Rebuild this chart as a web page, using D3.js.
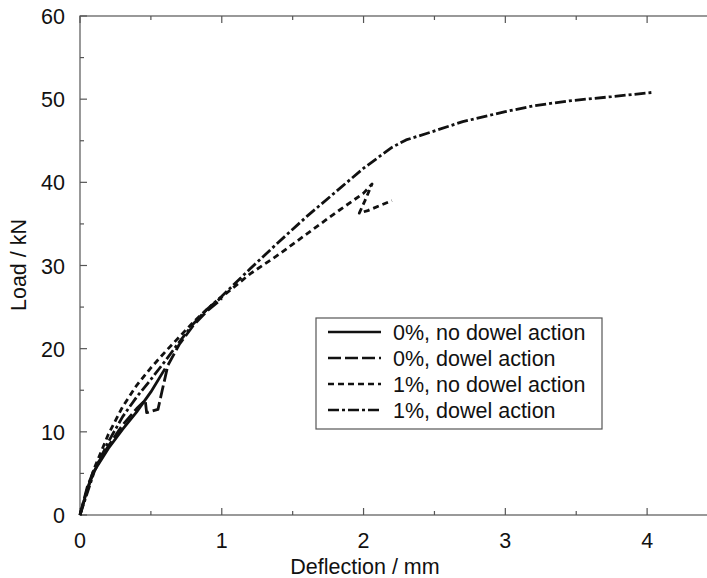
<!DOCTYPE html>
<html>
<head>
<meta charset="utf-8">
<script src="https://cdn.jsdelivr.net/npm/d3@7"></script>
<style>
  body { margin: 0; background: #fff; }
  svg { display: block; font-family: "Liberation Sans", Arial, sans-serif; }
</style>
</head>
<body>
<svg id="chart" width="707" height="578"></svg>
<script>
// series data: [deflection mm, load kN]
const noDowel0 = [[0, 0], [0.05, 3], [0.1, 5.3], [0.2, 8], [0.3, 10.3], [0.4, 12.4], [0.5, 14.8], [0.6, 17.6]];
const dowel0 = [[0, 0], [0.05, 3.3], [0.1, 5.5], [0.2, 8.3], [0.3, 10.8], [0.4, 12.8], [0.46, 13.8], [0.47, 12.3],
  [0.55, 12.7], [0.58, 15], [0.62, 18], [0.7, 20.5], [0.8, 22.8], [0.9, 24.6], [1.0, 26]];
const noDowel1 = [[0, 0], [0.05, 3], [0.1, 5.6], [0.2, 9.7], [0.3, 13], [0.4, 15.6], [0.5, 17.7], [0.6, 19.6],
  [0.7, 21.4], [0.8, 23.2], [0.9, 24.8], [1.0, 26.2], [1.2, 29], [1.4, 31.3], [1.6, 33.8], [1.8, 36.3],
  [2.0, 38.7], [2.06, 39.8], [2.01, 37.8], [1.97, 36.3], [2.03, 36.6], [2.2, 37.8]];
const dowel1 = [[0, 0], [0.1, 5.2], [0.2, 8.8], [0.3, 11.8], [0.4, 14.2], [0.5, 16.3], [0.6, 18.5], [0.7, 20.8],
  [0.8, 23], [0.9, 24.8], [1.0, 26.3], [1.2, 29.6], [1.4, 32.8], [1.6, 35.9], [1.8, 38.8], [2.0, 41.7],
  [2.2, 44.2], [2.3, 45.1], [2.45, 45.9], [2.7, 47.3], [3.0, 48.5], [3.2, 49.2], [3.45, 49.8], [3.75, 50.3], [4.03, 50.8]];

const seriesNames = ['0%, no dowel action', '0%, dowel action', '1%, no dowel action', '1%, dowel action'];
const seriesData = [noDowel0, dowel0, noDowel1, dowel1];
const dashes = [null, '13,4', '6,4', '11,3,3,3'];

const xTicks = [0, 1, 2, 3, 4];
const xMinor = [0.5, 1.5, 2.5, 3.5, 4.5];
const yTicks = [0, 10, 20, 30, 40, 50, 60];
const yMinor = [5, 15, 25, 35, 45, 55];

const svg = d3.select('#chart');
const plotLeft = 80, plotTop = 16, plotRight = 718, plotBottom = 515;
const fontSize = 21.5;

const x = d3.scaleLinear().domain([0, 4.5]).range([plotLeft, plotRight]);
const y = d3.scaleLinear().domain([0, 60]).range([plotBottom, plotTop]);

const axisColor = '#555';

// frame
svg.append('rect')
  .attr('x', plotLeft).attr('y', plotTop)
  .attr('width', plotRight - plotLeft).attr('height', plotBottom - plotTop)
  .attr('fill', 'none').attr('stroke', axisColor).attr('stroke-width', 1.2);

// inward ticks on all sides
const tickG = svg.append('g').attr('stroke', axisColor).attr('stroke-width', 1.2);
xTicks.concat(xMinor).forEach(v => {
  const len = xTicks.includes(v) ? 7 : 4;
  tickG.append('line').attr('x1', x(v)).attr('x2', x(v)).attr('y1', plotBottom).attr('y2', plotBottom - len);
  tickG.append('line').attr('x1', x(v)).attr('x2', x(v)).attr('y1', plotTop).attr('y2', plotTop + len);
});
yTicks.concat(yMinor).forEach(v => {
  const len = yTicks.includes(v) ? 7 : 4;
  tickG.append('line').attr('x1', plotLeft).attr('x2', plotLeft + len).attr('y1', y(v)).attr('y2', y(v));
  tickG.append('line').attr('x1', plotRight).attr('x2', plotRight - len).attr('y1', y(v)).attr('y2', y(v));
});

// tick labels
svg.append('g').selectAll('text').data(xTicks).join('text')
  .attr('x', d => x(d)).attr('y', 548)
  .attr('text-anchor', 'middle').attr('font-size', fontSize).attr('fill', '#111')
  .text(d => d);
svg.append('g').selectAll('text').data(yTicks).join('text')
  .attr('x', 65).attr('y', d => y(d) + 8)
  .attr('text-anchor', 'end').attr('font-size', fontSize).attr('fill', '#111')
  .text(d => d);

// axis titles
svg.append('text').attr('x', 365).attr('y', 574)
  .attr('text-anchor', 'middle').attr('font-size', fontSize).attr('fill', '#111')
  .text('Deflection / mm');
svg.append('text').attr('transform', 'translate(26,265) rotate(-90)')
  .attr('text-anchor', 'middle').attr('font-size', fontSize).attr('fill', '#111')
  .text('Load / kN');

// curves
const line = d3.line().x(d => x(d[0])).y(d => y(d[1])).curve(d3.curveLinear);
seriesData.forEach((data, i) => {
  svg.append('path')
    .attr('d', line(data))
    .attr('fill', 'none')
    .attr('stroke', '#111')
    .attr('stroke-width', 2.8)
    .attr('stroke-linejoin', 'round')
    .attr('stroke-dasharray', dashes[i]);
});

// legend
const lg = svg.append('g');
lg.append('rect').attr('x', 316).attr('y', 318).attr('width', 286).attr('height', 111)
  .attr('fill', '#fff').attr('stroke', axisColor).attr('stroke-width', 1.2);
seriesNames.forEach((name, i) => {
  const ly = 332 + i * 26;
  lg.append('line').attr('x1', 328).attr('x2', 381).attr('y1', ly).attr('y2', ly)
    .attr('stroke', '#111').attr('stroke-width', 2.6)
    .attr('stroke-dasharray', dashes[i]);
  lg.append('text').attr('x', 393).attr('y', ly + 8)
    .attr('font-size', fontSize).attr('fill', '#111').text(name);
});
</script>
</body>
</html>
